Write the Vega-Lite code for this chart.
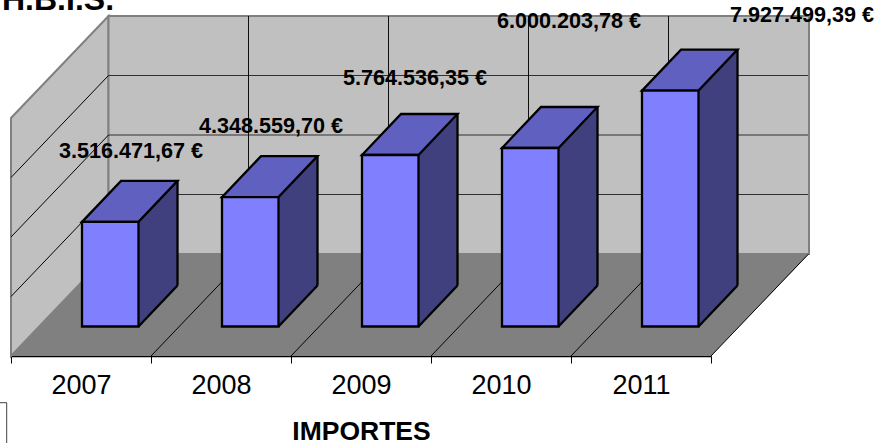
{
"$schema":"https://vega.github.io/schema/vega-lite/v6.json",
"width":700,"height":238,
"autosize":{"type":"none"},
"padding":{"left":11,"top":88.5,"right":168,"bottom":116.5},
"background":"white",
"config":{"view":{"stroke":null},"font":"Liberation Sans",
 "axisX":{"offset":29.5,"zindex":1,"grid":false,"domainColor":"#000000","domainWidth":1.5,"tickColor":"#000000","tickSize":7,"tickBand":"extent","labelAngle":0,"labelFontSize":27,"labelColor":"#000000","labelPadding":9,"titleFontSize":26.5,"titleFontWeight":"bold","titleColor":"#000000","titlePadding":20,"labelFont":"Liberation Sans","titleFont":"Liberation Sans"}},
"datasets":{"grid":[{"gridline":2000000},{"gridline":4000000},{"gridline":6000000}]},
"data":{"values":[
{"year":"2007","importe":3516471.67,"label":"3.516.471,67 €"},
{"year":"2008","importe":4348559.70,"label":"4.348.559,70 €"},
{"year":"2009","importe":5764536.35,"label":"5.764.536,35 €"},
{"year":"2010","importe":6000203.78,"label":"6.000.203,78 €"},
{"year":"2011","importe":7927499.39,"label":"7.927.499,39 €"}
]},
"layer":[
{"transform":[{"filter":"datum.year=='2007'"}],
 "mark":{"type":"point","shape":"M0,0L0,-238L97.5,-340L97.5,-102Z","filled":true,"fill":"#c0c0c0","stroke":"#808080","strokeWidth":2,"size":4,"opacity":1,"yOffset":29.5},
 "encoding":{"x":{"field":"year","type":"nominal","bandPosition":0,"title":"IMPORTES","scale":{"type":"band","paddingInner":0,"paddingOuter":0}},"y":{"datum":0,"type":"quantitative","scale":{"domain":[0,8000000],"nice":false},"axis":null}}},
{"transform":[{"filter":"datum.year=='2007'"}],
 "mark":{"type":"point","shape":"M97.5,-102L97.5,-340L798,-340L798,-102Z","filled":true,"fill":"#c0c0c0","stroke":"#808080","strokeWidth":2,"size":4,"opacity":1,"yOffset":29.5},
 "encoding":{"x":{"field":"year","type":"nominal","bandPosition":0,"title":"IMPORTES"},"y":{"datum":0,"type":"quantitative","axis":null}}},
{"layer":[{"mark":{"type":"point","shape":"M97.5,0L797,0","filled":false,"fill":null,"stroke":"#303030","strokeWidth":1,"size":4,"opacity":1,"x":0,"yOffset":-72.5}},
          {"mark":{"type":"point","shape":"M0,0L97.5,-102","filled":false,"fill":null,"stroke":"#000000","strokeWidth":1,"size":4,"opacity":1,"x":0,"yOffset":29.5}}],
 "data":{"name":"grid"},
 "encoding":{"y":{"field":"gridline","type":"quantitative","axis":null}}},
{"transform":[{"filter":"datum.year!='2007'"}],
 "mark":{"type":"rule","stroke":"#101010","strokeWidth":1,"xOffset":97.5,"yOffset":-72.5,"y2Offset":-72.5},
 "encoding":{"x":{"field":"year","type":"nominal","bandPosition":0,"title":"IMPORTES"},"y":{"datum":0,"type":"quantitative","axis":null},"y2":{"datum":8000000}}},
{"transform":[{"filter":"datum.year=='2007'"}],
 "mark":{"type":"point","shape":"M0,0L700,0L798,-102L97.5,-102Z","filled":true,"fill":"#808080","stroke":null,"size":4,"opacity":1,"yOffset":29.5},
 "encoding":{"x":{"field":"year","type":"nominal","bandPosition":0,"title":"IMPORTES"},"y":{"datum":0,"type":"quantitative","axis":null}}},
{"transform":[{"filter":"datum.year!='2007'"}],
 "mark":{"type":"point","shape":"M0,0L97.5,-102","filled":false,"fill":null,"stroke":"#000000","strokeWidth":1,"size":4,"opacity":1,"yOffset":29.5},
 "encoding":{"x":{"field":"year","type":"nominal","bandPosition":0,"title":"IMPORTES"},"y":{"datum":0,"type":"quantitative","axis":null}}},
{"transform":[{"filter":"datum.year=='2011'"}],
 "mark":{"type":"point","shape":"M0,0L97.5,-102","filled":false,"fill":null,"stroke":"#000000","strokeWidth":1,"size":4,"opacity":1,"yOffset":29.5},
 "encoding":{"x":{"field":"year","type":"nominal","bandPosition":1,"title":"IMPORTES"},"y":{"datum":0,"type":"quantitative","axis":null}}},
{"transform":[{"filter":"datum.year=='2007'"}],
 "mark":{"type":"point","shape":"M-20,76.2L-4.3,76.2L-4.3,140","filled":false,"fill":null,"stroke":"#404040","strokeWidth":1,"size":4,"opacity":1},
 "encoding":{"x":{"field":"year","type":"nominal","bandPosition":0,"title":"IMPORTES"},"y":{"datum":0,"type":"quantitative","axis":null}}},
{"mark":{"type":"bar","size":39,"xOffset":77,"y2Offset":-41,"fill":"#40407f"},
 "encoding":{"x":{"field":"year","type":"nominal","title":"IMPORTES"},"y":{"field":"importe","type":"quantitative","axis":null},"y2":{"datum":0}}},
{"mark":{"type":"point","shape":"M0,0L39,-41L39,1L0,1Z","filled":true,"fill":"#40407f","stroke":null,"size":4,"opacity":1,"xOffset":57.5},
 "encoding":{"x":{"field":"year","type":"nominal","title":"IMPORTES"},"y":{"field":"importe","type":"quantitative","axis":null}}},
{"mark":{"type":"point","shape":"M0,0L39,-41L39,-42L0,-42Z","filled":true,"fill":"#40407f","stroke":null,"size":4,"opacity":1,"xOffset":57.5},
 "encoding":{"x":{"field":"year","type":"nominal","title":"IMPORTES"},"y":{"datum":0,"type":"quantitative","axis":null}}},
{"mark":{"type":"rule","stroke":"#000000","strokeWidth":2.3,"xOffset":96.5,"yOffset":-41,"y2Offset":-41},
 "encoding":{"x":{"field":"year","type":"nominal","title":"IMPORTES"},"y":{"field":"importe","type":"quantitative","axis":null},"y2":{"datum":0}}},
{"mark":{"type":"point","shape":"M28.25,0L67.25,-41","filled":false,"fill":null,"stroke":"#000000","strokeWidth":2.3,"size":4,"opacity":1,"xOffset":29.25},
 "encoding":{"x":{"field":"year","type":"nominal","title":"IMPORTES"},"y":{"datum":0,"type":"quantitative","axis":null}}},
{"mark":{"type":"point","shape":"M-28.25,0L28.25,0L67.25,-41L10.75,-41Z","filled":true,"fill":"#6060c0","stroke":"#000000","strokeWidth":2.3,"size":4,"opacity":1,"xOffset":29.25},
 "encoding":{"x":{"field":"year","type":"nominal","title":"IMPORTES"},"y":{"field":"importe","type":"quantitative","axis":null}}},
{"mark":{"type":"bar","size":56.5,"xOffset":29.25,"fill":"#8080ff","stroke":"#000000","strokeWidth":2.3},
 "encoding":{
  "x":{"field":"year","type":"nominal","title":"IMPORTES"},
  "y":{"field":"importe","type":"quantitative","axis":null},"y2":{"datum":0}}},
{"transform":[{"filter":"datum.year=='2007'"}],
 "mark":{"type":"text","fontSize":32,"fontWeight":"bold","color":"#000000","dx":-79,"dy":-317,"align":"left","baseline":"alphabetic"},
 "encoding":{"x":{"field":"year","type":"nominal","title":"IMPORTES"},"y":{"datum":0,"type":"quantitative","axis":null},"text":{"value":"H.B.I.S."}}},
{"transform":[{"filter":"datum.year=='2007'||datum.year=='2008'"}],
 "mark":{"type":"text","fontSize":21.6,"fontWeight":"bold","color":"#000000","dx":50,"dy":-70,"align":"center","baseline":"middle"},
 "encoding":{"x":{"field":"year","type":"nominal","title":"IMPORTES"},"y":{"field":"importe","type":"quantitative","axis":null},"text":{"field":"label"}}},
{"transform":[{"filter":"datum.year=='2009'"}],
 "mark":{"type":"text","fontSize":21.6,"fontWeight":"bold","color":"#000000","dx":54,"dy":-76,"align":"center","baseline":"middle"},
 "encoding":{"x":{"field":"year","type":"nominal","title":"IMPORTES"},"y":{"field":"importe","type":"quantitative","axis":null},"text":{"field":"label"}}},
{"transform":[{"filter":"datum.year=='2010'"}],
 "mark":{"type":"text","fontSize":21.6,"fontWeight":"bold","color":"#000000","dx":68,"dy":-126,"align":"center","baseline":"middle"},
 "encoding":{"x":{"field":"year","type":"nominal","title":"IMPORTES"},"y":{"field":"importe","type":"quantitative","axis":null},"text":{"field":"label"}}},
{"transform":[{"filter":"datum.year=='2011'"}],
 "mark":{"type":"text","fontSize":21.6,"fontWeight":"bold","color":"#000000","dx":161,"dy":-74.5,"align":"center","baseline":"middle"},
 "encoding":{"x":{"field":"year","type":"nominal","title":"IMPORTES"},"y":{"field":"importe","type":"quantitative","axis":null},"text":{"field":"label"}}}
]}
